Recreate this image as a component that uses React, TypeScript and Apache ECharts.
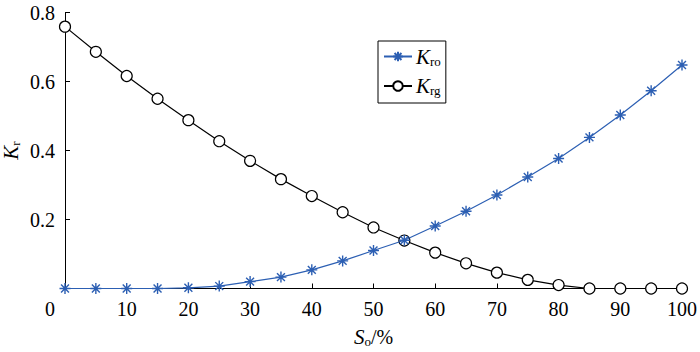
import React, { useEffect, useRef } from "react";
import * as echarts from "echarts";

const saturation = [0, 5, 10, 15, 20, 25, 30, 35, 40, 45, 50, 55, 60, 65, 70, 75, 80, 85, 90, 95, 100];
const kro = [0, 0, 0, 0, 0.002, 0.007, 0.02, 0.033, 0.054, 0.08, 0.11, 0.14, 0.181, 0.224, 0.271, 0.323, 0.377, 0.438, 0.503, 0.573, 0.648];
const krg = [0.759, 0.686, 0.616, 0.55, 0.488, 0.427, 0.37, 0.317, 0.268, 0.221, 0.177, 0.139, 0.104, 0.073, 0.046, 0.025, 0.01, 0, 0, 0, 0];
const xTicks = [0, 10, 20, 30, 40, 50, 60, 70, 80, 90, 100];
const yTicks = [0.2, 0.4, 0.6, 0.8];

const BLUE = "#2c5fb3";
const FONT = "Liberation Serif";
const STAR = "path://M0,-5L0,5M-5,0L5,0M-3.6,-3.6L3.6,3.6M-3.6,3.6L3.6,-3.6";

export default function App() {
  const ref = useRef<HTMLDivElement>(null);
  useEffect(() => {
    document.body.style.margin = "0";
    const chart = echarts.init(ref.current!, null, { renderer: "svg" });
    const rich = {
      k: { fontFamily: FONT, fontStyle: "italic", fontSize: 21, color: "#000" },
      s: { fontFamily: FONT, fontSize: 13, color: "#000", padding: [9, 0, 0, 0] },
      n: { fontFamily: FONT, fontSize: 20, color: "#000" },
    };
    chart.setOption({
      animation: false,
      backgroundColor: "#fff",
      grid: { left: 65, right: 18, top: 12.5, bottom: 63.5, containLabel: false, outerBoundsMode: "none" },
      legend: {
        left: 378,
        top: 41,
        orient: "vertical",
        borderColor: "#000",
        borderWidth: 1,
        padding: [5, 5, 6, 5],
        itemGap: 8,
        itemWidth: 28,
        itemHeight: 12,
        data: ["Kro", "Krg"],
        formatter: (name: string) => (name === "Kro" ? "{k|K}{s|ro}" : "{k|K}{s|rg}"),
        textStyle: { rich, padding: [0, 0, 0, -1] },
      },
      xAxis: {
        type: "value",
        min: 0,
        max: 100,
        interval: 10,
        name: "{k|S}{s|o}{n|/%}",
        nameLocation: "middle",
        nameGap: 37,
        nameTextStyle: { rich },
        axisLine: { lineStyle: { color: "#000", width: 1 } },
        axisTick: { inside: true, length: 5, lineStyle: { color: "#000" } },
        splitLine: { show: false },
        axisLabel: {
          margin: 10,
          color: "#000",
          fontFamily: FONT,
          fontSize: 20,
          formatter: (v: number) => (xTicks.includes(v) ? (v === 0 ? "{z|0}" : String(v)) : ""),
          rich: { z: { fontFamily: FONT, fontSize: 20, color: "#000", padding: [0, 30, 0, 0] } },
        },
      },
      yAxis: {
        type: "value",
        min: 0,
        max: 0.8,
        interval: 0.2,
        name: "{k|K}{s|r}",
        nameLocation: "middle",
        nameGap: 54,
        nameMoveOverlap: false,
        nameRotate: 90,
        nameTextStyle: { rich, verticalAlign: "middle", align: "center" },
        axisLine: { show: true, lineStyle: { color: "#000", width: 1 } },
        axisTick: { show: true, inside: true, length: 5, lineStyle: { color: "#000" } },
        splitLine: { show: false },
        axisLabel: {
          margin: 10,
          color: "#000",
          fontFamily: FONT,
          fontSize: 20,
          formatter: (v: number) => {
            const f = yTicks.find((t) => Math.abs(t - v) < 1e-6);
            return f === undefined ? "" : f.toFixed(1);
          },
        },
      },
      series: [
        {
          name: "Krg",
          type: "line",
          data: saturation.map((s, i) => [s, krg[i]]),
          smooth: false,
          symbol: "circle",
          symbolSize: 11,
          lineStyle: { color: "#000", width: 1.2 },
          itemStyle: { color: "#fff", borderColor: "#000", borderWidth: 1.2 },
          z: 2,
        },
        {
          name: "Kro",
          type: "line",
          data: saturation.map((s, i) => [s, kro[i]]),
          smooth: false,
          symbol: STAR,
          symbolSize: 11,
          lineStyle: { color: BLUE, width: 1.2 },
          itemStyle: { color: BLUE, borderColor: BLUE, borderWidth: 1.4 },
          z: 3,
        },
      ],
    });
    return () => chart.dispose();
  }, []);
  return <div ref={ref} style={{ width: 700, height: 352 }} />;
}
